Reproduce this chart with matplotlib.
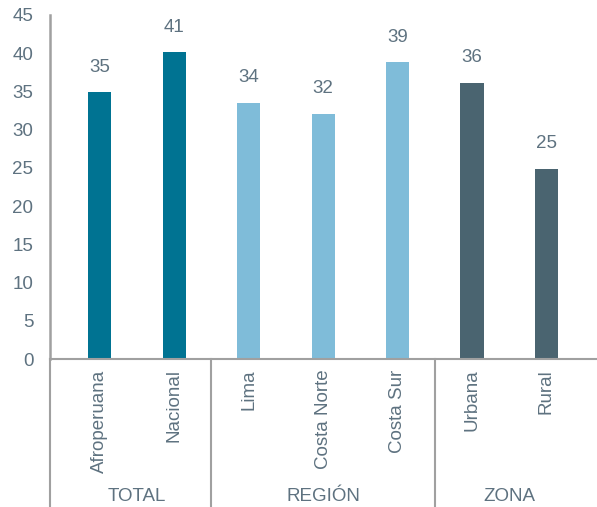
import matplotlib.pyplot as plt
import numpy as np

plt.rcParams['font.family'] = ['Liberation Sans', 'DejaVu Sans']

categorias = ['Afroperuana', 'Nacional', 'Lima', 'Costa Norte', 'Costa Sur', 'Urbana', 'Rural']
valores = [34.9, 40.1, 33.5, 32.1, 38.8, 36.1, 24.9]
etiquetas = ['35', '41', '34', '32', '39', '36', '25']
grupos = ['TOTAL', 'REGIÓN', 'ZONA']
tam_grupos = [2, 3, 2]

colores_grupo = ['#007392', '#7fbcd9', '#4a6470']
gris_texto = '#5e7280'
gris_linea = '#a0a0a0'
fs = 13.5

colores = []
for c, n in zip(colores_grupo, tam_grupos):
    colores += [c] * n

fig = plt.figure(figsize=(5.97, 5.07), dpi=100)
ax = fig.add_axes([50/597, 148/507, 547/597, 344/507])

x = np.arange(len(categorias))
ax.bar(x, valores, width=0.31, color=colores)
for xi, v, t in zip(x, valores, etiquetas):
    ax.text(xi, v + 2.7, t, ha='center', va='baseline', fontsize=fs, color=gris_texto)

ax.set_xlim(-0.67, 6.68)
ax.set_ylim(0, 45)
ax.set_yticks(np.arange(0, 46, 5))
ax.tick_params(axis='y', length=0, labelsize=fs, labelcolor=gris_texto, pad=12)
ax.set_xticks([])

for s in ['top', 'right']:
    ax.spines[s].set_visible(False)
ax.spines['left'].set_color(gris_linea)
ax.spines['left'].set_linewidth(1.8)
ax.spines['bottom'].set_color(gris_linea)
ax.spines['bottom'].set_linewidth(1.5)

# etiquetas de categorias y separadores de grupos
trans = ax.get_xaxis_transform()
for xi, c in zip(x, categorias):
    ax.text(xi, -0.03, c, rotation=90, ha='center', va='top', fontsize=fs,
            color=gris_texto, transform=trans)

bordes = [-0.67, 1.5, 4.5]
for b in bordes:
    ax.plot([b, b], [0, -0.44], transform=trans, color=gris_linea, lw=1.5, clip_on=False)
inicio = np.cumsum([0] + tam_grupos)
for i, g in enumerate(grupos):
    centro = inicio[i] + (tam_grupos[i] - 1) / 2
    ax.text(centro, -0.40, g, ha='center', va='center', fontsize=fs,
            color=gris_texto, transform=trans)

fig.savefig('out.png', dpi=100)
